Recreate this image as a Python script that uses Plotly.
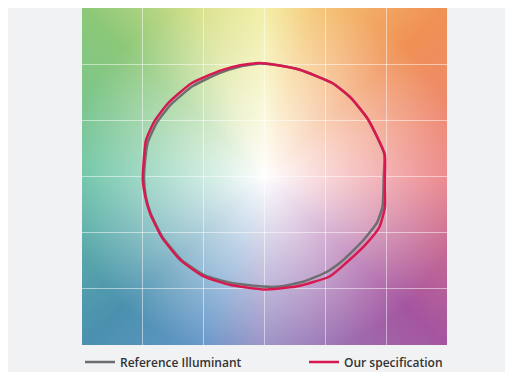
import base64
import struct
import zlib

import numpy as np
import plotly.graph_objects as go

# colour vector graphic, x/y in normalised units
ref_x = [0.98, 0.984, 0.85, 0.71, 0.56, 0.29, 0.11, -0.04, -0.20, -0.37, -0.59, -0.77, -0.885, -0.96,
         -0.985, -0.99, -0.975, -0.935, -0.84, -0.685, -0.49, -0.28, -0.01, 0.125, 0.316, 0.51, 0.645,
         0.81, 0.925, 0.97, 0.978]
ref_y = [0.00, 0.20, 0.51, 0.70, 0.83, 0.95, 0.99, 1.005, 0.98, 0.92, 0.805, 0.64, 0.48, 0.30,
         0.10, -0.03, -0.18, -0.33, -0.535, -0.74, -0.88, -0.946, -0.98, -0.98, -0.937, -0.85, -0.745,
         -0.57, -0.41, -0.27, -0.095]

spec_x = [0.99, 0.988, 0.85, 0.71, 0.56, 0.29, 0.11, -0.04, -0.20, -0.37, -0.60, -0.79, -0.905, -0.975,
          -0.995, -1.0, -0.98, -0.94, -0.845, -0.69, -0.50, -0.28, -0.01, 0.26, 0.535, 0.67, 0.836,
          0.945, 0.99, 0.99]
spec_y = [0.00, 0.20, 0.51, 0.70, 0.83, 0.95, 0.99, 1.01, 0.99, 0.94, 0.83, 0.655, 0.49, 0.32,
          0.10, -0.03, -0.18, -0.33, -0.54, -0.745, -0.89, -0.966, -1.005, -0.98, -0.89, -0.77, -0.60,
          -0.45, -0.27, -0.095]

names = ["Reference Illuminant", "Our specification"]
colors = ["#6e6e70", "#d8194f"]

# hue colours around the edge of the background
hue_deg = [0, 45, 75, 90, 110, 135, 180, 225, 250, 270, 315, 360]
hue_rgb = [(236, 130, 135), (240, 145, 85), (245, 200, 120), (242, 238, 160), (215, 225, 140),
           (140, 200, 120), (105, 195, 165), (75, 145, 175), (100, 150, 200), (150, 140, 195),
           (165, 85, 160), (236, 130, 135)]


def background_png(n=96):
    g = np.linspace(-1.5, 1.5, n)
    X, Y = np.meshgrid(g, g[::-1])
    ang = np.degrees(np.arctan2(Y, X)) % 360
    t = np.clip(np.hypot(X, Y) / 1.65, 0, 1) ** 0.95
    rgb = np.stack([np.interp(ang, hue_deg, [c[k] for c in hue_rgb]) for k in range(3)], -1)
    img = (255 * (1 - t[..., None]) + rgb * t[..., None]).round().astype(np.uint8)
    raw = b"".join(b"\x00" + img[i].tobytes() for i in range(n))

    def chunk(tag, data):
        return (struct.pack(">I", len(data)) + tag + data
                + struct.pack(">I", zlib.crc32(tag + data) & 0xffffffff))

    png = (b"\x89PNG\r\n\x1a\n"
           + chunk(b"IHDR", struct.pack(">IIBBBBB", n, n, 8, 2, 0, 0, 0))
           + chunk(b"IDAT", zlib.compress(raw))
           + chunk(b"IEND", b""))
    return "data:image/png;base64," + base64.b64encode(png).decode()


fig = go.Figure()
for i, (xs, ys) in enumerate([(ref_x, ref_y), (spec_x, spec_y)]):
    fig.add_trace(go.Scatter(
        x=xs + xs[:1], y=ys + ys[:1], name=names[i], mode="lines",
        line=dict(color=colors[i], width=2.5, shape="spline", smoothing=0.5),
        hoverinfo="skip", legend="legend" if i == 0 else "legend2",
    ))

fig.add_layout_image(
    source=background_png(), xref="x", yref="y", x=-1.5, y=1.5, sizex=3, sizey=3,
    xanchor="left", yanchor="top", sizing="stretch", layer="below",
)

grid = dict(range=[-1.5, 1.5], tickvals=[-1, -0.5, 0, 0.5, 1], showticklabels=False, ticks="",
            showgrid=True, gridcolor="rgba(255,255,255,0.5)", gridwidth=1.3, zeroline=False,
            showline=False, fixedrange=True)

W, H = 505, 364
leg_font = dict(family="Open Sans", size=12, color="#333333", weight=600)
leg = dict(orientation="h", xref="container", yref="container", xanchor="left",
           y=1 - 354 / H, yanchor="middle", bgcolor="rgba(0,0,0,0)", font=leg_font)

fig.update_layout(
    width=W, height=H,
    margin=dict(l=74, r=66, t=0, b=27),
    paper_bgcolor="#f1f2f4", plot_bgcolor="white",
    xaxis=grid, yaxis=grid,
    showlegend=True,
    legend=dict(leg, x=72 / W),
    legend2=dict(leg, x=296 / W),
)

fig.write_html("out.html")
